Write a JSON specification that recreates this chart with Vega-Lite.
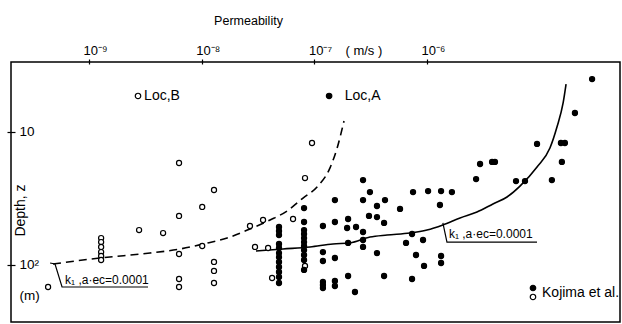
{
  "$schema": "https://vega.github.io/schema/vega-lite/v6.json",
  "width": 609,
  "height": 260,
  "autosize": {"type": "none"},
  "padding": {"left": 11, "top": 62, "right": 2, "bottom": 2},
  "background": "white",
  "config": {
    "view": {"stroke": "black", "strokeWidth": 1.5},
    "font": "Liberation Sans"
  },
  "datasets": {
    "points": [
      {"k": 4.33e-10, "z": 146.4, "loc": "B"},
      {"k": 1.28e-9, "z": 62.7, "loc": "B"},
      {"k": 1.28e-9, "z": 67.2, "loc": "B"},
      {"k": 1.28e-9, "z": 73.2, "loc": "B"},
      {"k": 1.28e-9, "z": 79.9, "loc": "B"},
      {"k": 1.28e-9, "z": 85.6, "loc": "B"},
      {"k": 1.28e-9, "z": 91.7, "loc": "B"},
      {"k": 2.78e-9, "z": 54.6, "loc": "B"},
      {"k": 4.54e-9, "z": 57.5, "loc": "B"},
      {"k": 6.29e-9, "z": 17.1, "loc": "B"},
      {"k": 6.29e-9, "z": 42.8, "loc": "B"},
      {"k": 6.29e-9, "z": 82.7, "loc": "B"},
      {"k": 6.29e-9, "z": 127.4, "loc": "B"},
      {"k": 6.29e-9, "z": 146.4, "loc": "B"},
      {"k": 1.01e-8, "z": 36.6, "loc": "B"},
      {"k": 1.285e-8, "z": 27.3, "loc": "B"},
      {"k": 1.01e-8, "z": 72.0, "loc": "B"},
      {"k": 1.285e-8, "z": 94.9, "loc": "B"},
      {"k": 1.285e-8, "z": 110.9, "loc": "B"},
      {"k": 1.285e-8, "z": 136.6, "loc": "B"},
      {"k": 2.68e-8, "z": 50.9, "loc": "B"},
      {"k": 3.5e-8, "z": 45.9, "loc": "B"},
      {"k": 2.97e-8, "z": 73.2, "loc": "B"},
      {"k": 3.88e-8, "z": 74.5, "loc": "B"},
      {"k": 4.21e-8, "z": 125.3, "loc": "B"},
      {"k": 6.46e-8, "z": 45.1, "loc": "B"},
      {"k": 8.25e-8, "z": 22.2, "loc": "B"},
      {"k": 9.52e-8, "z": 12.1, "loc": "B"},
      {"k": 8.25e-8, "z": 101.7, "loc": "B"},
      {"k": 4.85e-8, "z": 51.8, "loc": "A"},
      {"k": 4.85e-8, "z": 55.5, "loc": "A"},
      {"k": 4.85e-8, "z": 59.5, "loc": "A"},
      {"k": 4.85e-8, "z": 69.5, "loc": "A"},
      {"k": 4.85e-8, "z": 74.5, "loc": "A"},
      {"k": 4.85e-8, "z": 81.3, "loc": "A"},
      {"k": 4.85e-8, "z": 87.1, "loc": "A"},
      {"k": 4.85e-8, "z": 94.9, "loc": "A"},
      {"k": 4.85e-8, "z": 103.5, "loc": "A"},
      {"k": 4.85e-8, "z": 112.9, "loc": "A"},
      {"k": 4.85e-8, "z": 123.1, "loc": "A"},
      {"k": 4.85e-8, "z": 136.6, "loc": "A"},
      {"k": 8.09e-8, "z": 37.3, "loc": "A"},
      {"k": 8.09e-8, "z": 47.5, "loc": "A"},
      {"k": 8.09e-8, "z": 54.6, "loc": "A"},
      {"k": 8.09e-8, "z": 58.5, "loc": "A"},
      {"k": 8.09e-8, "z": 62.7, "loc": "A"},
      {"k": 8.09e-8, "z": 67.2, "loc": "A"},
      {"k": 8.09e-8, "z": 72.0, "loc": "A"},
      {"k": 8.09e-8, "z": 77.2, "loc": "A"},
      {"k": 8.09e-8, "z": 84.1, "loc": "A"},
      {"k": 8.09e-8, "z": 91.7, "loc": "A"},
      {"k": 8.09e-8, "z": 109.0, "loc": "A"},
      {"k": 2.7e-7, "z": 23.0, "loc": "A"},
      {"k": 3.11e-7, "z": 28.3, "loc": "A"},
      {"k": 1.52e-7, "z": 32.5, "loc": "A"},
      {"k": 2.7e-7, "z": 32.5, "loc": "A"},
      {"k": 4.23e-7, "z": 32.5, "loc": "A"},
      {"k": 3.59e-7, "z": 36.0, "loc": "A"},
      {"k": 5.75e-7, "z": 37.9, "loc": "A"},
      {"k": 7.5e-7, "z": 28.3, "loc": "A"},
      {"k": 1.02e-6, "z": 27.8, "loc": "A"},
      {"k": 1.33e-6, "z": 27.8, "loc": "A"},
      {"k": 1.66e-6, "z": 28.3, "loc": "A"},
      {"k": 1.3e-6, "z": 35.4, "loc": "A"},
      {"k": 3.05e-7, "z": 42.8, "loc": "A"},
      {"k": 3.59e-7, "z": 43.6, "loc": "A"},
      {"k": 4.15e-7, "z": 48.3, "loc": "A"},
      {"k": 1.99e-7, "z": 45.1, "loc": "A"},
      {"k": 1.52e-7, "z": 47.5, "loc": "A"},
      {"k": 1.19e-7, "z": 50.9, "loc": "A"},
      {"k": 1.95e-7, "z": 52.7, "loc": "A"},
      {"k": 2.34e-7, "z": 51.8, "loc": "A"},
      {"k": 2.7e-7, "z": 56.5, "loc": "A"},
      {"k": 2.7e-7, "z": 64.9, "loc": "A"},
      {"k": 2.7e-7, "z": 73.2, "loc": "A"},
      {"k": 1.99e-7, "z": 68.3, "loc": "A"},
      {"k": 1.19e-7, "z": 79.9, "loc": "A"},
      {"k": 1.19e-7, "z": 93.3, "loc": "A"},
      {"k": 1.52e-7, "z": 88.6, "loc": "A"},
      {"k": 3.59e-7, "z": 81.3, "loc": "A"},
      {"k": 6.5e-7, "z": 68.3, "loc": "A"},
      {"k": 7.35e-7, "z": 58.5, "loc": "A"},
      {"k": 9.2e-7, "z": 64.9, "loc": "A"},
      {"k": 7.97e-7, "z": 84.1, "loc": "A"},
      {"k": 9.39e-7, "z": 101.7, "loc": "A"},
      {"k": 1.33e-6, "z": 85.6, "loc": "A"},
      {"k": 1.33e-6, "z": 96.6, "loc": "A"},
      {"k": 1.99e-7, "z": 121.0, "loc": "A"},
      {"k": 4.15e-7, "z": 121.0, "loc": "A"},
      {"k": 7.35e-7, "z": 127.4, "loc": "A"},
      {"k": 1.19e-7, "z": 134.2, "loc": "A"},
      {"k": 1.19e-7, "z": 141.4, "loc": "A"},
      {"k": 1.19e-7, "z": 148.9, "loc": "A"},
      {"k": 1.52e-7, "z": 131.9, "loc": "A"},
      {"k": 1.52e-7, "z": 143.9, "loc": "A"},
      {"k": 2.29e-7, "z": 159.6, "loc": "A"},
      {"k": 2.72e-6, "z": 22.6, "loc": "A"},
      {"k": 2.95e-6, "z": 17.4, "loc": "A"},
      {"k": 3.77e-6, "z": 16.8, "loc": "A"},
      {"k": 4.0e-6, "z": 16.8, "loc": "A"},
      {"k": 6.15e-6, "z": 23.4, "loc": "A"},
      {"k": 7.39e-6, "z": 23.4, "loc": "A"},
      {"k": 9.45e-6, "z": 12.3, "loc": "A"},
      {"k": 1.28e-5, "z": 23.0, "loc": "A"},
      {"k": 1.57e-5, "z": 16.8, "loc": "A"},
      {"k": 1.54e-5, "z": 12.1, "loc": "A"},
      {"k": 1.67e-5, "z": 12.1, "loc": "A"},
      {"k": 2.05e-5, "z": 7.2, "loc": "A"},
      {"k": 2.91e-5, "z": 4.0, "loc": "A"}
    ],
    "dashed": [
      {"k": 4.79e-10, "z": 98.3, "o": 1},
      {"k": 1.25e-9, "z": 88.6, "o": 2},
      {"k": 3.48e-9, "z": 81.3, "o": 3},
      {"k": 6.42e-9, "z": 75.8, "o": 4},
      {"k": 1.03e-8, "z": 69.5, "o": 5},
      {"k": 1.68e-8, "z": 62.7, "o": 6},
      {"k": 2.68e-8, "z": 53.6, "o": 7},
      {"k": 4.04e-8, "z": 45.9, "o": 8},
      {"k": 5.71e-8, "z": 39.3, "o": 9},
      {"k": 7.92e-8, "z": 31.4, "o": 10},
      {"k": 1.055e-7, "z": 25.9, "o": 11},
      {"k": 1.375e-7, "z": 18.6, "o": 12},
      {"k": 1.59e-7, "z": 13.2, "o": 13},
      {"k": 1.83e-7, "z": 8.27, "o": 14}
    ],
    "solid": [
      {"k": 3.03e-8, "z": 78.5, "o": 1},
      {"k": 5.26e-8, "z": 75.8, "o": 2},
      {"k": 9.14e-8, "z": 73.2, "o": 3},
      {"k": 1.46e-7, "z": 69.5, "o": 4},
      {"k": 2.07e-7, "z": 68.3, "o": 5},
      {"k": 3.11e-7, "z": 61.6, "o": 6},
      {"k": 4.41e-7, "z": 59.5, "o": 7},
      {"k": 7.05e-7, "z": 57.5, "o": 8},
      {"k": 9.98e-7, "z": 54.6, "o": 9},
      {"k": 1.38e-6, "z": 50.0, "o": 10},
      {"k": 1.96e-6, "z": 44.3, "o": 11},
      {"k": 2.77e-6, "z": 40.0, "o": 12},
      {"k": 3.84e-6, "z": 34.8, "o": 13},
      {"k": 5.12e-6, "z": 30.8, "o": 14},
      {"k": 6.67e-6, "z": 25.5, "o": 15},
      {"k": 9.45e-6, "z": 18.3, "o": 16},
      {"k": 1.23e-5, "z": 13.2, "o": 17},
      {"k": 1.42e-5, "z": 9.17, "o": 18},
      {"k": 1.61e-5, "z": 6.05, "o": 19},
      {"k": 1.71e-5, "z": 4.36, "o": 20}
    ],
    "leaders": [
      {"k": 4.51e-10, "z": 96.6, "g": "left", "o": 1},
      {"k": 4.99e-10, "z": 98.3, "g": "left", "o": 2},
      {"k": 5.76e-10, "z": 146.4, "g": "left", "o": 3},
      {"k": 3.34e-9, "z": 146.4, "g": "left", "o": 4},
      {"k": 1.38e-6, "z": 48.3, "g": "right", "o": 1},
      {"k": 1.5e-6, "z": 67.2, "g": "right", "o": 2},
      {"k": 9.45e-6, "z": 67.2, "g": "right", "o": 3}
    ],
    "keymarks": [
      {"k": 2.72e-9, "z": 5.36, "loc": "B"},
      {"k": 1.35e-7, "z": 5.36, "loc": "A"},
      {"k": 8.7e-6, "z": 148.9, "loc": "A"},
      {"k": 8.7e-6, "z": 174, "loc": "B"}
    ],
    "labels": [
      {"k": 3.08e-9, "z": 5.36, "text": "Loc,B", "s": "big"},
      {"k": 1.86e-7, "z": 5.36, "text": "Loc,A", "s": "big"},
      {"k": 1.046e-5, "z": 162.4, "text": "Kojima et al.", "s": "big"},
      {"k": 6.12e-10, "z": 129.7, "text": "k₁ ,a·ec=0.0001", "s": "small"},
      {"k": 1.56e-6, "z": 58.5, "text": "k₁ ,a·ec=0.0001", "s": "small"}
    ]
  },
  "layer": [
    {
      "data": {"name": "dashed"},
      "mark": {"type": "line", "color": "black", "strokeWidth": 1.6, "strokeDash": [8, 5], "interpolate": "monotone"},
      "encoding": {
        "x": {"field": "k", "type": "quantitative", "scale": {"type": "log", "domain": [2.03e-10, 5.148e-5], "nice": false},
          "axis": {
            "orient": "top", "values": [1e-9, 1e-8, 1e-7, 2.11e-7, 1e-6],
            "labelExpr": "datum.value < 5e-9 ? '10⁻⁹' : datum.value < 5e-8 ? '10⁻⁸' : datum.value < 1.5e-7 ? '10⁻⁷' : datum.value < 6e-7 ? '( m/s )' : '10⁻⁶'",
            "offset": -2, "tickSize": 5, "domain": false, "grid": false,
            "tickColor": "black", "tickWidth": 1.2,
            "tickOpacity": {"condition": {"test": "datum.value > 1.5e-7 && datum.value < 6e-7", "value": 0}, "value": 1},
            "labelAlign": "left", "labelOffset": -6, "labelPadding": 2,
            "labelFontSize": 13, "labelColor": "black", "labelFont": "Liberation Sans",
            "title": "Permeability", "titleX": 237, "titleY": -44, "titleBaseline": "middle",
            "titleFontSize": 12.5, "titleFontWeight": "normal", "titleColor": "black", "titleFont": "Liberation Sans"
          }},
        "y": {"field": "z", "type": "quantitative", "scale": {"type": "log", "domain": [2.977, 268.3], "nice": false, "reverse": true},
          "axis": {
            "orient": "left", "values": [10, 100, 171],
            "labelExpr": "datum.value < 50 ? '10' : datum.value < 150 ? '10²' : '(m)'",
            "offset": -4, "tickSize": 8, "domain": false, "grid": false,
            "tickColor": "black", "tickWidth": 1.2,
            "tickOpacity": {"condition": {"test": "datum.value > 150", "value": 0}, "value": 1},
            "labelAlign": "left", "labelPadding": -12, "labelBaseline": "middle",
            "labelFontSize": 13.5, "labelColor": "black", "labelFont": "Liberation Sans",
            "title": "Depth, z", "titleAngle": 270, "titleX": 5, "titleY": 148,
            "titleAlign": "center", "titleBaseline": "middle",
            "titleFontSize": 14, "titleFontWeight": "normal", "titleColor": "black", "titleFont": "Liberation Sans"
          }},
        "order": {"field": "o", "type": "quantitative"}
      }
    },
    {
      "data": {"name": "solid"},
      "mark": {"type": "line", "color": "black", "strokeWidth": 1.6, "interpolate": "monotone"},
      "encoding": {
        "x": {"field": "k", "type": "quantitative"},
        "y": {"field": "z", "type": "quantitative"},
        "order": {"field": "o", "type": "quantitative"}
      }
    },
    {
      "data": {"name": "leaders"},
      "mark": {"type": "line", "color": "black", "strokeWidth": 1.2},
      "encoding": {
        "x": {"field": "k", "type": "quantitative"},
        "y": {"field": "z", "type": "quantitative"},
        "detail": {"field": "g"},
        "order": {"field": "o", "type": "quantitative"}
      }
    },
    {
      "data": {"name": "points"},
      "mark": {"type": "point", "filled": true, "shape": "circle", "stroke": "black", "strokeWidth": 1.2, "size": 26, "opacity": 1},
      "encoding": {
        "x": {"field": "k", "type": "quantitative"},
        "y": {"field": "z", "type": "quantitative"},
        "fill": {"field": "loc", "type": "nominal", "scale": {"domain": ["A", "B"], "range": ["black", "white"]}, "legend": null}
      }
    },
    {
      "data": {"name": "keymarks"},
      "mark": {"type": "point", "filled": true, "shape": "circle", "stroke": "black", "strokeWidth": 1.2, "size": 30, "opacity": 1},
      "encoding": {
        "x": {"field": "k", "type": "quantitative"},
        "y": {"field": "z", "type": "quantitative"},
        "fill": {"field": "loc", "type": "nominal", "scale": {"domain": ["A", "B"], "range": ["black", "white"]}, "legend": null}
      }
    },
    {
      "data": {"name": "labels"},
      "mark": {"type": "text", "align": "left", "baseline": "middle", "font": "Liberation Sans", "color": "black"},
      "encoding": {
        "x": {"field": "k", "type": "quantitative"},
        "y": {"field": "z", "type": "quantitative"},
        "text": {"field": "text"},
        "size": {"field": "s", "type": "nominal", "scale": {"domain": ["big", "small"], "range": [14, 12]}, "legend": null}
      }
    }
  ]
}
